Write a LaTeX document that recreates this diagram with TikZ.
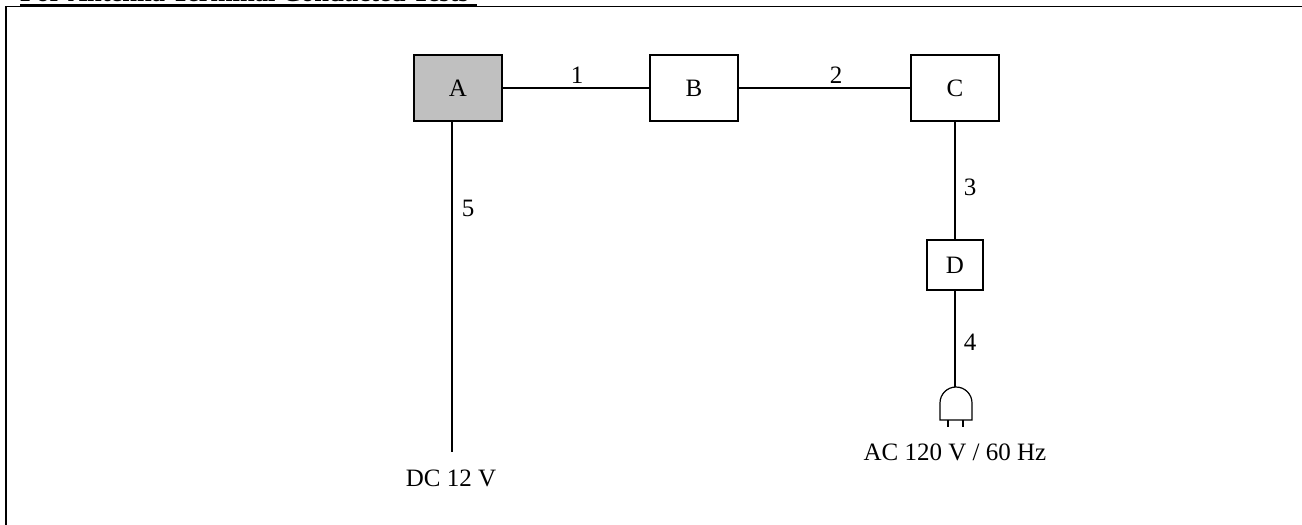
\documentclass[tikz,border=0pt]{standalone}
\usepackage{fontspec}
\setmainfont{Liberation Serif}
\definecolor{boxgray}{RGB}{192,192,192}
\begin{document}
\begin{tikzpicture}[x=1pt,y=-1pt,
  unit/.style={draw,line width=1.3pt,minimum width=88pt,minimum height=66pt,inner sep=0pt,font=\fontsize{25}{30}\selectfont},
  smallunit/.style={draw,line width=1.3pt,minimum width=56pt,minimum height=50pt,inner sep=0pt,font=\fontsize{25}{30}\selectfont},
  lbl/.style={anchor=base,inner sep=0pt,font=\fontsize{25}{30}\selectfont},
  wire/.style={line width=1.2pt}]
\useasboundingbox (0,0) rectangle (1302,525);
% frame and title
\node[anchor=base west,inner sep=0pt,font=\fontsize{26.5}{30}\selectfont\bfseries] (title) at (20,1.8) {For Antenna Terminal Conducted Tests};
\coordinate (ul1) at (20,5.5);
\coordinate (ul2) at (477,5.5);
\draw[line width=3pt] (ul1) -- (ul2);
\coordinate (fr1) at (6,525);
\coordinate (fr2) at (6,6.5);
\coordinate (fr3) at (1302,6.5);
\draw[line width=1.6pt] (fr1) -- (fr2) -- (fr3);
% units
\node[unit,fill=boxgray] (A) at (458,88) {A};
\node[unit] (B) at (694,88) {B};
\node[unit] (C) at (955,88) {C};
\node[smallunit] (D) at (955,265) {D};
% connectors
\draw[wire] (A.east) -- (B.west);
\draw[wire] (B.east) -- (C.west);
\draw[wire] (C.south) -- (D.north);
\coordinate (plugtop) at (955,387);
\draw[wire] (D.south) -- (plugtop);
\coordinate (Aout) at (452,121);
\coordinate (dcend) at (452,452);
\draw[wire] (Aout) -- (dcend);
% plug
\draw[wire] (940,420) -- (940,403) arc[start angle=180,end angle=360,radius=16] -- (972,420) -- cycle;
\draw[wire] (948,420) -- (948,427);
\draw[wire] (963,420) -- (963,427);
% labels
\node[lbl] (l1) at (577,83) {1};
\node[lbl] (l2) at (836,83) {2};
\node[lbl] (l3) at (970,195) {3};
\node[lbl] (l4) at (970,350) {4};
\node[lbl] (l5) at (468,216) {5};
\node[lbl] (ac) at (955,460) {AC 120 V / 60 Hz};
\node[lbl] (dc) at (451,486) {DC 12 V};
\end{tikzpicture}
\end{document}
